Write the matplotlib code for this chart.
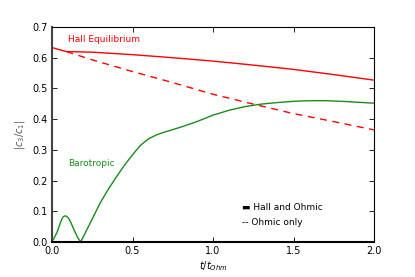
import matplotlib
matplotlib.use('Agg')
import matplotlib.pyplot as plt

# Hall + Ohmic (solid red)
hall_t = [0.0, 0.09, 0.25, 0.5, 0.75, 1.0, 1.25, 1.5, 1.75, 2.0]
hall_c = [0.633, 0.620, 0.618, 0.610, 0.600, 0.589, 0.576, 0.562, 0.545, 0.527]

# Ohmic only (dashed red)
ohm_t = [0.09, 0.25, 0.5, 0.75, 1.0, 1.25, 1.5, 1.75, 2.0]
ohm_c = [0.620, 0.593, 0.555, 0.519, 0.481, 0.449, 0.418, 0.392, 0.365]

# Barotropic (green)
baro_t = [0.0, 0.02, 0.03, 0.045, 0.06, 0.07, 0.081, 0.09, 0.10, 0.11, 0.12,
          0.13, 0.14, 0.15, 0.16, 0.178,
          0.25, 0.30, 0.35, 0.40, 0.45, 0.50, 0.55, 0.60, 0.65, 0.70, 0.80,
          0.90, 1.00, 1.10, 1.20, 1.30, 1.40, 1.50, 1.60, 1.70, 1.80, 1.90, 2.00]
baro_c = [0.0, 0.02, 0.03, 0.052, 0.074, 0.082, 0.085, 0.084, 0.079, 0.071, 0.060,
          0.048, 0.036, 0.025, 0.014, 0.0,
          0.075, 0.128, 0.172, 0.212, 0.250, 0.284, 0.315, 0.336, 0.349, 0.358, 0.374,
          0.392, 0.413, 0.429, 0.441, 0.449, 0.454, 0.458, 0.460, 0.460, 0.458, 0.455, 0.452]

xticks = [0.0, 0.5, 1.0, 1.5, 2.0]
yticks = [0.0, 0.1, 0.2, 0.3, 0.4, 0.5, 0.6, 0.7]

fig = plt.figure(figsize=(4.15, 2.77), dpi=100)
ax = fig.add_axes([52 / 415, 35 / 277, 322 / 415, 215 / 277])

ax.plot(hall_t, hall_c, color='red', lw=1.0)
ax.plot(ohm_t, ohm_c, color='red', lw=1.0, ls=(0, (5, 4)))
ax.plot(baro_t, baro_c, color='#1a8c1a', lw=1.0)

ax.text(0.10, 0.658, 'Hall Equilibrium', color='red', fontsize=6.5, va='center')
ax.text(0.10, 0.257, 'Barotropic', color='#1a8c1a', fontsize=6.5, va='center')
ax.text(1.18, 0.111, '\u25ac Hall and Ohmic', color='black', fontsize=6.5, va='center')
ax.text(1.18, 0.062, '-- Ohmic only', color='black', fontsize=6.5, va='center')

ax.set_xlim(0, 2.0)
ax.set_ylim(0, 0.7)
ax.set_xticks(xticks)
ax.set_yticks(yticks)
ax.set_xticklabels(['%.1f' % v for v in xticks])
ax.set_yticklabels(['%.1f' % v for v in yticks])
ax.tick_params(direction='in', top=True, right=True, length=3.5, width=0.6,
               labelsize=7, pad=3)

ax.set_xlabel(r'$t/t_{Ohm}$', fontsize=7, labelpad=2)
ax.set_ylabel(r'$|c_3/c_1|$', fontsize=7, color='#555555', labelpad=4)

for side in ['left', 'bottom']:
    ax.spines[side].set_linewidth(1.5)
ax.spines['left'].set_color('#444444')
for side in ['top', 'right']:
    ax.spines[side].set_linewidth(0.8)

fig.savefig('out.png', dpi=100)
